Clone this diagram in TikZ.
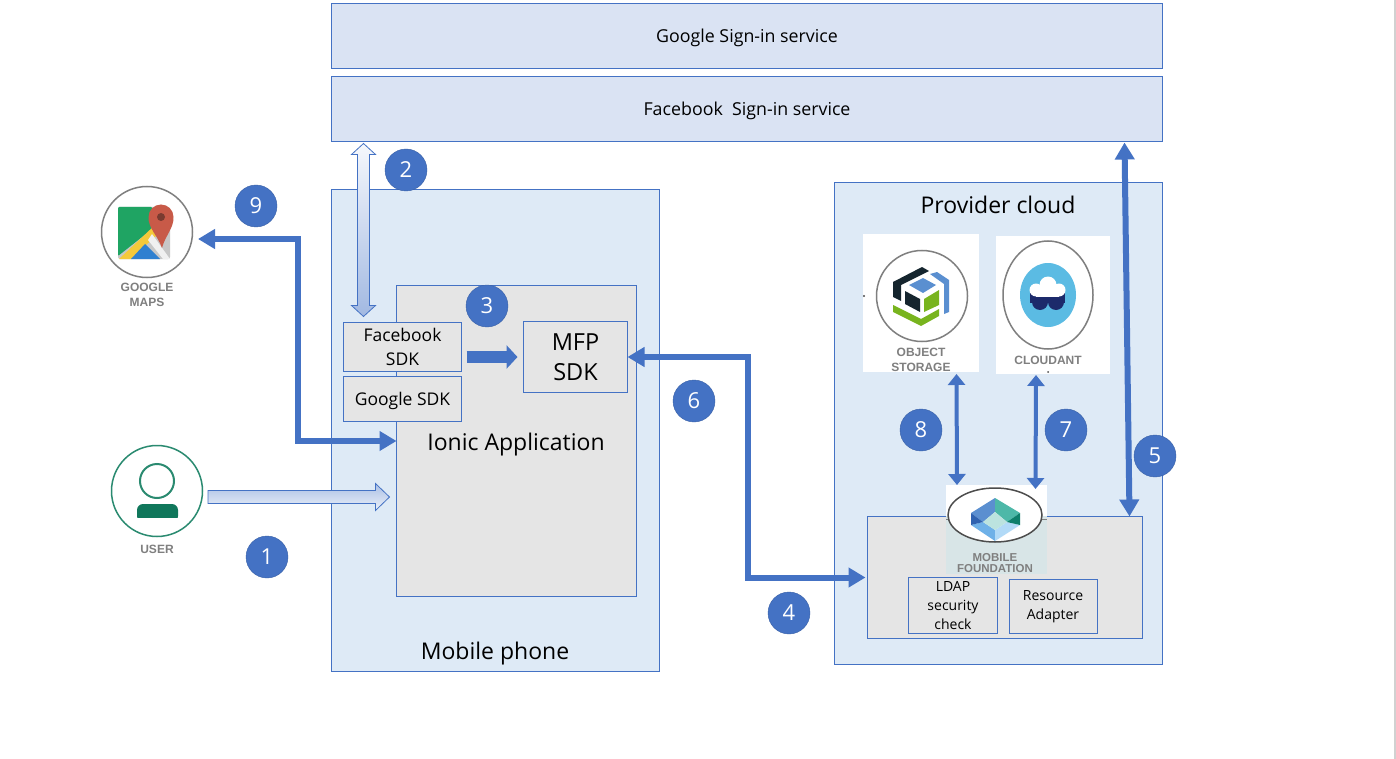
\documentclass[tikz,border=0pt]{standalone}
\usepackage{fontspec}
\setmainfont{Open Sans}
\newfontfamily\iconfont{Liberation Sans}
\usetikzlibrary{arrows.meta, positioning, calc}
\definecolor{edgeblue}{HTML}{4472C4}
\definecolor{svcfill}{HTML}{DAE3F3}
\definecolor{zonefill}{HTML}{DEEAF6}
\definecolor{appfill}{HTML}{E5E5E5}
\definecolor{icongrey}{HTML}{7F7F7F}
\definecolor{palefill}{HTML}{D8E5E7}
\definecolor{usergreen}{HTML}{2A8A70}
\definecolor{userbody}{HTML}{10775B}
\definecolor{mapgreen}{HTML}{1FA463}
\definecolor{mapyellow}{HTML}{F5C93A}
\definecolor{mapblue}{HTML}{2F80D0}
\definecolor{mapred}{HTML}{C85A48}
\definecolor{mapdark}{HTML}{7A3B30}
\definecolor{boxdark}{HTML}{15252E}
\definecolor{boxgreen}{HTML}{78B41E}
\definecolor{boxblue}{HTML}{5A8FD0}
\definecolor{dbcyan}{HTML}{5BBBE3}
\definecolor{dbnavy}{HTML}{1C2A6B}
\definecolor{hexa}{HTML}{5B8FD0}
\definecolor{hexb}{HTML}{4DB8A8}
\definecolor{hexc}{HTML}{6FB1E8}
\definecolor{hexd}{HTML}{B2DAF7}
\definecolor{hexe}{HTML}{BCE3DF}
\definecolor{hexf}{HTML}{2F62B0}
\definecolor{hexg}{HTML}{0E7F6B}
\begin{document}
\begin{tikzpicture}[
      x=1pt, y=-1pt,
      every node/.style={outer sep=0pt, inner sep=0pt},
      svc/.style={rectangle, draw=edgeblue, line width=1pt, fill=svcfill, minimum width=831pt, minimum height=65pt, text depth=0pt, font=\fontsize{17.8}{22}\selectfont},
      zone/.style={rectangle, draw=edgeblue, line width=1pt, fill=zonefill, anchor=north west},
      app/.style={rectangle, draw=edgeblue, line width=1pt, fill=appfill, anchor=north west},
      sdk/.style={rectangle, draw=edgeblue, line width=1pt, fill=appfill, align=center, font=\fontsize{17.5}{24}\selectfont},
      adapter/.style={rectangle, draw=edgeblue, line width=1pt, fill=appfill, align=center, font=\fontsize{14}{19}\selectfont},
      title/.style={text depth=0pt, font=\fontsize{23}{28}\selectfont},
      badge/.style={circle, fill=edgeblue, draw=edgeblue!85!black, minimum size=42pt, text=white, font=\fontsize{22}{28}\selectfont},
      icon/.style={rectangle, anchor=north west},
      whitebox/.style={rectangle, fill=white, anchor=north west},
      icontext/.style={text=icongrey, align=center, font=\iconfont\bfseries\fontsize{12}{15}\selectfont},
      flow/.style={{Triangle[length=17pt,width=19pt]}-{Triangle[length=17pt,width=19pt]}, line width=6pt, draw=edgeblue},
      link/.style={{Triangle[length=11pt,width=17pt]}-{Triangle[length=11pt,width=17pt]}, line width=4pt, draw=edgeblue},
      push/.style={-{Triangle[length=11pt,width=23pt]}, line width=12pt, draw=edgeblue},
      blockline/.style={draw=edgeblue, line width=0.8pt, line join=miter}
    ]
    \useasboundingbox (0,0) rectangle (1396,759);
    \fill[white] (0,0) rectangle (1396,759);
    \fill[black!18] (1394,0) rectangle (1396,759);

    \node[svc, anchor=north west] (google) at (331.5,3.5) {Google Sign-in service};
    \node[svc, below=8pt of google] (facebook) {Facebook\ \ Sign-in service};

    \node[zone, minimum width=328pt, minimum height=482pt] (phone) at (331.5,189.5) {};
    \node[zone, minimum width=328pt, minimum height=482pt] (provider) at (834.5,182.5) {};
    \node[title] (phonetitle) at (495,651) {Mobile phone};
    \node[title] (providertitle) at (998,205) {Provider cloud};

    \node[app, minimum width=240pt, minimum height=311pt] (ionic) at (396.5,285.5) {};
    \node[title] (ionictitle) at (516,442) {Ionic Application};
    \node[sdk, anchor=north west, minimum width=118pt, minimum height=49pt] (fbsdk) at (343.5,322.5) {Facebook\\SDK};
    \node[sdk, below=5pt of fbsdk, minimum width=118pt, minimum height=45pt, text depth=0pt] (gsdk) {Google SDK};
    \node[sdk, anchor=north west, minimum width=104pt, minimum height=71pt, font=\fontsize{23.5}{30}\selectfont] (mfp) at (523.5,321.5) {MFP\\SDK};

    \node[app, minimum width=275pt, minimum height=122pt] (server) at (867.5,516.5) {};
    \node[adapter, anchor=north west, minimum width=89pt, minimum height=56pt] (ldap) at (908.5,577.5) {LDAP\\security\\check};
    \node[adapter, anchor=north west, minimum width=88pt, minimum height=54pt] (resource) at (1009,579.5) {Resource\\Adapter};

    \node[whitebox, minimum width=116pt, minimum height=138pt] (object) at (863,234) {};
    \node[whitebox, minimum width=114pt, minimum height=138pt] (cloudant) at (996,236) {};
    \node[whitebox, minimum width=101pt, minimum height=89pt] (foundation) at (946,485) {};
    \fill[palefill] (946,516) rectangle (1047,574);

    \node[icon, minimum width=90pt, minimum height=106pt] (maps) at (101,186) {};
    \node[icon, minimum width=90pt, minimum height=104pt] (user) at (112,445) {};

    \draw[icongrey, line width=1.5pt, fill=white] (147,232) circle (45.5);
    \fill[rounded corners=2pt, black!22] (118,207) rectangle (170,259);
    \fill[rounded corners=1pt, mapgreen] (118,207) -- (152,207) -- (156,226) -- (118,256) -- cycle;
    \fill[mapyellow] (119,259) -- (131,259) -- (158,234) -- (154,226) -- cycle;
    \fill[mapblue] (131,259) -- (160,259) -- (145,244) -- cycle;
    \fill[black!6] (148,240) -- (163,259) -- (170,259) -- (152,234) -- cycle;
    \fill[mapred] (162,248) .. controls (158,236) and (148,228) .. (148.5,217) arc[start angle=180, end angle=360, radius=12.5] .. controls (174,228) and (165,236) .. (162,248);
    \fill[mapdark] (161,217) circle (4);
    \node[icontext] (mapstext) at (147,294.5) {GOOGLE\\MAPS};

    \draw[usergreen, line width=1.5pt] (157,491) circle (45.5);
    \draw[usergreen, line width=2pt] (157,481) circle (17);
    \fill[userbody, rounded corners=6pt] (137,522) -- (137,504) -- (178,504) -- (178,522) -- cycle;
    \fill[white] (135,518) rectangle (180,524);
    \node[icontext] (usertext) at (157,549) {USER};

    \draw[icongrey, line width=1.5pt] (922,296) circle (45.5);
    \fill[boxdark] (893,282) -- (922,267) -- (929,271) -- (901,285) -- (901,301) -- (893,297) -- cycle;
    \fill[boxdark] (905,291) -- (920,299) -- (920,312) -- (905,304) -- cycle;
    \fill[boxblue] (923,278) -- (936,285) -- (923,293) -- (909,285) -- cycle;
    \fill[boxgreen] (924,299) -- (939,290) -- (939,305) -- (924,312) -- cycle;
    \fill[boxgreen] (893,305) -- (921,319) -- (939,309) -- (939,316) -- (921,326) -- (893,312) -- cycle;
    \fill[boxblue] (930,274) -- (937,272) -- (949,280) -- (949,312) -- (944,314) -- (944,284) -- cycle;
    \fill[black!70] (864,296) circle (1.2);
    \node[icontext] (objecttext) at (921,359.5) {OBJECT\\STORAGE};

    \draw[icongrey, line width=1.5pt] (1048,295) ellipse (45 and 54);
    \fill[dbcyan] (1048,295) ellipse (28 and 32);
    \fill[dbnavy] (1030,293) rectangle (1065,303);
    \fill[dbnavy] (1040,302) circle (8);
    \fill[dbnavy] (1056,302) circle (8);
    \fill[white] (1036,290) circle (6.5);
    \fill[white] (1048,285) circle (8.5);
    \fill[white] (1059,290) circle (6.5);
    \fill[white] (1036,288) rectangle (1059,296.5);
    \node[icontext] (cloudanttext) at (1048,360) {CLOUDANT};
    \fill[black!70] (1048,372) circle (1);

    \draw[black!50, line width=1pt] (946,519) -- (1047,519);
    \draw[black!70, line width=1.5pt, fill=white] (995,515) ellipse (47 and 27);
    \fill[hexa] (995,498) -- (971,513) -- (983,522) -- (995,512) -- cycle;
    \fill[hexb] (995,498) -- (1020,513) -- (1007,522) -- (995,512) -- cycle;
    \fill[hexc] (971,525) -- (983,522) -- (995,530) -- (995,541) -- cycle;
    \fill[hexd] (1020,525) -- (1007,522) -- (995,530) -- (995,541) -- cycle;
    \fill[hexe] (995,512) -- (1007,522) -- (995,530) -- (983,522) -- cycle;
    \fill[hexf] (971,513) -- (983,522) -- (971,525) -- cycle;
    \fill[hexg] (1020,513) -- (1007,522) -- (1020,525) -- cycle;
    \node[icontext, font=\iconfont\bfseries\fontsize{11.5}{11}\selectfont] (foundationtext) at (995,563.5) {MOBILE\\FOUNDATION};

    \draw[flow] (ionic.west) -- ++(-99,0) |- ([xshift=7pt]maps.east);
    \draw[flow] (mfp.east) -- ++(120,0) |- ([xshift=-2pt]server.west);
    \draw[flow] ([xshift=-38pt,yshift=-1pt]facebook.south east) -- ([xshift=-13pt]server.north east);
    \draw[link] ([xshift=35.5pt,yshift=-2pt]object.south) -- ([xshift=-39.5pt]foundation.north);
    \draw[link] ([xshift=-17pt,yshift=-1pt]cloudant.south) -- ([xshift=39pt,yshift=-4pt]foundation.north);
    \draw[push, shorten >=6pt, shorten <=5pt] (fbsdk.east |- mfp.west) -- (mfp.west);

    \draw[blockline, top color=edgeblue!45!white, bottom color=edgeblue!10!white] ([xshift=6pt,yshift=6.5pt]user.east) -- ([xshift=-21pt,yshift=6.5pt]ionic.west |- user.east) -- ++(0,-7) -- ([xshift=-7pt]ionic.west |- user.east) -- ++(-14,13.5) -- ++(0,-7) -- ([xshift=6pt,yshift=-6.5pt]user.east) -- cycle;
    \draw[blockline, top color=edgeblue!5!white, bottom color=edgeblue!50!white] ([xshift=32pt,yshift=-2pt]facebook.south west) -- ++(12,11) -- ++(-6,0) -- ++(0,151) -- ++(6,0) -- ++(-12,11) -- ++(-12,-11) -- ++(6,0) -- ++(0,-151) -- ++(-6,0) -- cycle;

    \node[badge] (stepone) at (267,557) {1};
    \node[badge] (steptwo) at (406,170) {2};
    \node[badge] (stepthree) at (487,306) {3};
    \node[badge] (stepfour) at (789,613) {4};
    \node[badge] (stepfive) at (1155,456) {5};
    \node[badge] (stepsix) at (694,401) {6};
    \node[badge] (stepseven) at (1066,430) {7};
    \node[badge] (stepeight) at (921,430) {8};
    \node[badge] (stepnine) at (256,206) {9};
  \end{tikzpicture}
\end{document}
